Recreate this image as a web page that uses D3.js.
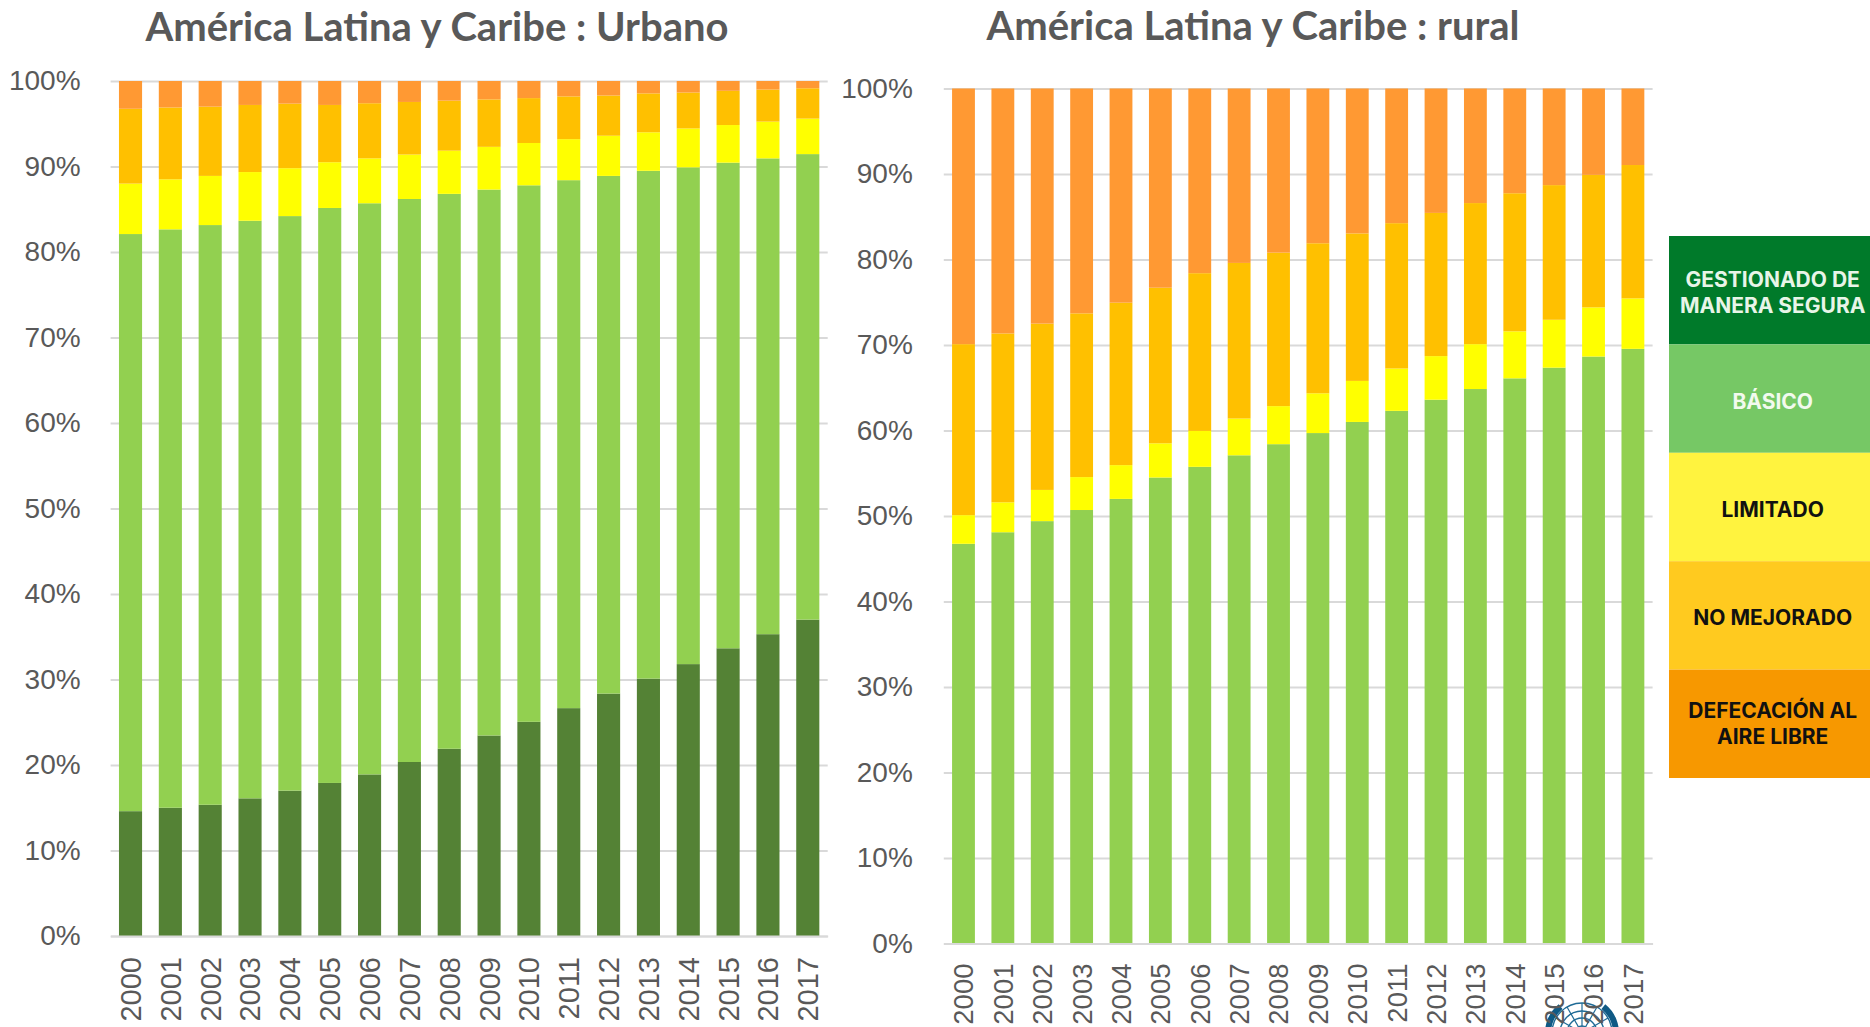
<!DOCTYPE html>
<html><head><meta charset="utf-8">
<script src="https://cdn.jsdelivr.net/npm/d3@7/dist/d3.min.js"></script>
<style>html,body{margin:0;background:#fff;overflow:hidden}svg{display:block}</style>
</head><body><svg id="c" width="1870" height="1027"></svg>
<script>
const years = ["2000","2001","2002","2003","2004","2005","2006","2007","2008","2009","2010","2011","2012","2013","2014","2015","2016","2017"];
const yTicks = [0,10,20,30,40,50,60,70,80,90,100];
const seriesKeys = ["safe","basic","limited","unimproved","open"];
const seriesColors = ["#548235","#92D050","#FFFF00","#FFC000","#FF9933"];

const urbanSafe = [14.6,15.0,15.35,16.1,17.0,17.9,18.9,20.35,21.9,23.45,25.05,26.65,28.35,30.1,31.8,33.65,35.3,37.0];
const urbanBasic = [67.5,67.65,67.8,67.56,67.2,67.25,66.8,65.85,64.9,63.85,62.75,61.75,60.55,59.4,58.1,56.8,55.65,54.45];
const urbanLimited = [5.9,5.85,5.75,5.69,5.6,5.35,5.25,5.2,5.05,5.0,4.95,4.8,4.7,4.5,4.55,4.4,4.3,4.15];
const urbanUnimproved = [8.75,8.4,8.1,7.85,7.55,6.7,6.45,6.15,5.85,5.55,5.25,5.0,4.7,4.55,4.2,4.0,3.75,3.55];
const urbanOpen = [3.25,3.1,3.0,2.8,2.65,2.8,2.6,2.45,2.3,2.15,2.0,1.8,1.7,1.45,1.35,1.15,1.0,0.85];

const ruralSafe = [0,0,0,0,0,0,0,0,0,0,0,0,0,0,0,0,0,0];
const ruralBasic = [46.75,48.1,49.4,50.7,52.0,54.5,55.75,57.1,58.4,59.7,61.0,62.3,63.6,64.85,66.1,67.35,68.65,69.55];
const ruralLimited = [3.35,3.5,3.65,3.85,3.95,4.0,4.2,4.3,4.45,4.65,4.8,4.95,5.1,5.25,5.5,5.6,5.75,5.9];
const ruralUnimproved = [20.0,19.75,19.45,19.15,19.0,18.2,18.45,18.2,17.95,17.55,17.25,17.0,16.75,16.5,16.15,15.75,15.5,15.6];
const ruralOpen = [29.9,28.65,27.5,26.3,25.05,23.3,21.6,20.4,19.2,18.1,16.95,15.75,14.55,13.4,12.25,11.3,10.1,8.95];

const legendLabels = [["GESTIONADO DE","MANERA SEGURA"],["BÁSICO"],["LIMITADO"],["NO MEJORADO"],["DEFECACIÓN AL","AIRE LIBRE"]];
const legendColors = ["#007A2A","#76C865","#FFF33F","#FFCA1F","#F79800"];
const legendText = ["#E8F5E8","#F2FAEE","#111111","#111111","#111111"];

const svg = d3.select("#c");
const GREY = "#595959";

// UN emblem, sits under the x labels of the right chart
(function(){
  const g = svg.append("g").attr("transform","translate(1582,1033)")
    .attr("fill","none").attr("stroke","#1F6B96");
  [7,15,22,30].forEach(r=>g.append("circle").attr("r",r).attr("stroke-width",1.4));
  d3.range(0,180,30).forEach(a=>g.append("line").attr("x1",-30).attr("x2",30)
    .attr("transform",`rotate(${a})`).attr("stroke-width",1.2));
  const arc = d3.arc().innerRadius(31).outerRadius(37);
  g.append("path").attr("d",arc({startAngle:-1.7,endAngle:-0.68})).attr("fill","#0F5A85").attr("stroke","none");
  g.append("path").attr("d",arc({startAngle:0.68,endAngle:1.7})).attr("fill","#0F5A85").attr("stroke","none");
})();

function chart(o){
  const x = d3.scaleBand().domain(years).range([o.x0,o.x1]).paddingInner(0.42).paddingOuter(0.21);
  const y = d3.scaleLinear().domain([0,100]).range([o.y0,o.y1]);
  const rows = years.map((yr,i)=>({year:yr,safe:o.safe[i],basic:o.basic[i],limited:o.limited[i],unimproved:o.unimproved[i],open:o.open[i]}));
  const stack = d3.stack().keys(seriesKeys)(rows);
  const g = svg.append("g");

  const ya = g.append("g").attr("transform",`translate(${o.x0},0)`)
    .call(d3.axisLeft(y).tickValues(yTicks).tickFormat(d=>d+"%").tickSize(-(o.x1-o.x0)).tickPadding(o.pad));
  ya.select(".domain").remove();
  ya.selectAll("line").attr("stroke","#D9D9D9").attr("stroke-width",2);
  ya.selectAll("text").attr("fill",GREY).style("font","28px 'Liberation Sans'");

  g.selectAll(".s").data(stack).join("g").attr("fill",(d,i)=>seriesColors[i])
    .selectAll("rect").data(d=>d).join("rect")
    .attr("x",d=>x(d.data.year)).attr("width",x.bandwidth())
    .attr("y",d=>y(d[1])).attr("height",d=>y(d[0])-y(d[1]));

  const xa = g.append("g").attr("transform",`translate(0,${o.y0})`)
    .call(d3.axisBottom(x).tickSize(0));
  xa.select(".domain").attr("stroke","#D9D9D9").attr("stroke-width",2);
  xa.selectAll("text").attr("fill",GREY).style("font",o.xFont+"px 'Liberation Sans'")
    .attr("transform","rotate(-90)").attr("text-anchor","end").attr("dy","0.36em")
    .attr("x",-o.labelGap).attr("y",0);

  svg.append("text").attr("x",o.tx).attr("y",o.ty).attr("text-anchor","middle")
    .attr("fill",GREY).style("font","bold 40px Lato").text(o.title);
}

chart({x0:110.6,x1:827.7,y0:936,y1:81,pad:30,labelGap:21,xFont:29,tx:437,ty:41,title:"América Latina y Caribe : Urbano",
  safe:urbanSafe,basic:urbanBasic,limited:urbanLimited,unimproved:urbanUnimproved,open:urbanOpen});
chart({x0:943.8,x1:1652.6,y0:943.5,y1:88.5,pad:31,labelGap:20,xFont:27.5,tx:1253,ty:40,title:"América Latina y Caribe : rural",
  safe:ruralSafe,basic:ruralBasic,limited:ruralLimited,unimproved:ruralUnimproved,open:ruralOpen});

// legend
const legendY = d3.scaleBand().domain(d3.range(legendLabels.length)).range([236,778]);
const lg = svg.append("g").selectAll("g").data(legendLabels).join("g");
lg.append("rect").attr("x",1669).attr("width",201)
  .attr("y",(d,i)=>legendY(i)).attr("height",legendY.bandwidth()).attr("fill",(d,i)=>legendColors[i]);
lg.each(function(d,i){
  const cy = legendY(i)+legendY.bandwidth()/2+(i<4?2.4:0);
  d.forEach((t,j)=>{
    d3.select(this).append("text").attr("x",1772.7)
      .attr("y",cy+(j-(d.length-1)/2)*26).attr("dy","0.36em").attr("text-anchor","middle")
      .attr("fill",legendText[i]).style("font","bold 21px Inter").text(t);
  });
});
</script></body></html>
